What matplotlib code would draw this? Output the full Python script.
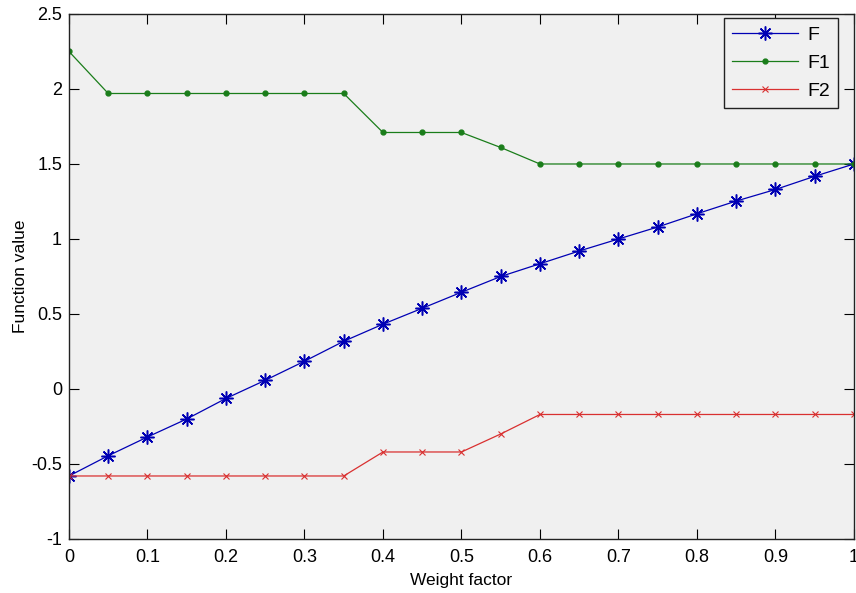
import matplotlib
matplotlib.use("Agg")
import matplotlib.pyplot as plt

weight = [0.0, 0.05, 0.1, 0.15, 0.2, 0.25, 0.3, 0.35, 0.4, 0.45, 0.5,
          0.55, 0.6, 0.65, 0.7, 0.75, 0.8, 0.85, 0.9, 0.95, 1.0]
F = [-0.58, -0.445, -0.32, -0.2, -0.063, 0.058, 0.185, 0.318, 0.432, 0.538, 0.645,
     0.75, 0.835, 0.92, 1.0, 1.08, 1.168, 1.253, 1.33, 1.418, 1.5]
F1 = [2.25, 1.97, 1.97, 1.97, 1.97, 1.97, 1.97, 1.97, 1.71, 1.71, 1.71,
      1.61, 1.5, 1.5, 1.5, 1.5, 1.5, 1.5, 1.5, 1.5, 1.5]
F2 = [-0.58, -0.58, -0.58, -0.58, -0.58, -0.58, -0.58, -0.58, -0.42, -0.42, -0.42,
      -0.3, -0.17, -0.17, -0.17, -0.17, -0.17, -0.17, -0.17, -0.17, -0.17]
xticks = [0, 0.1, 0.2, 0.3, 0.4, 0.5, 0.6, 0.7, 0.8, 0.9, 1]
xticklabels = ["0", "0.1", "0.2", "0.3", "0.4", "0.5", "0.6", "0.7", "0.8", "0.9", "1"]
yticks = [-1, -0.5, 0, 0.5, 1, 1.5, 2, 2.5]
yticklabels = ["-1", "-0.5", "0", "0.5", "1", "1.5", "2", "2.5"]

plt.rcParams['font.family'] = ['Liberation Sans', 'DejaVu Sans']
fs = 13

fig = plt.figure(figsize=(8.56, 5.93), dpi=100)
fig.patch.set_facecolor('white')
ax = fig.add_axes([0.0806, 0.0911, 0.917, 0.8853])
ax.set_facecolor('#f0f0f0')

ax.plot(weight, F, color='#0000b4', lw=0.9, marker=(8, 2, 0), ms=10, mew=1.1, label='F')
ax.plot(weight, F1, color='#1a7d1a', lw=0.9, marker='.', ms=7, label='F1')
ax.plot(weight, F2, color='#d93030', lw=0.9, marker='x', ms=5, mew=0.8, label='F2')

ax.set_xlim(0, 1)
ax.set_ylim(-1, 2.5)
ax.set_xticks(xticks)
ax.set_xticklabels(xticklabels, fontsize=fs)
ax.set_yticks(yticks)
ax.set_yticklabels(yticklabels, fontsize=fs)
ax.tick_params(direction='in', top=True, right=True, length=7, width=0.8)
ax.tick_params(axis='x', pad=7)
ax.tick_params(axis='y', pad=5)
for s in ax.spines.values():
    s.set_linewidth(1.0)
    s.set_color('#222222')

ax.set_xlabel('Weight factor', fontsize=fs - 0.5, labelpad=5)
ax.set_ylabel('Function value', fontsize=fs - 0.5, labelpad=2)

leg = ax.legend(loc='upper right', fontsize=fs + 1, handlelength=3.4, frameon=True,
                fancybox=False, edgecolor='#222222', facecolor='#f0f0f0', framealpha=1,
                borderpad=0.4, labelspacing=0.55, handletextpad=0.5,
                borderaxespad=0, bbox_to_anchor=(0.9796, 0.992))
leg.get_frame().set_linewidth(1.0)

fig.savefig('out.png', dpi=100)
